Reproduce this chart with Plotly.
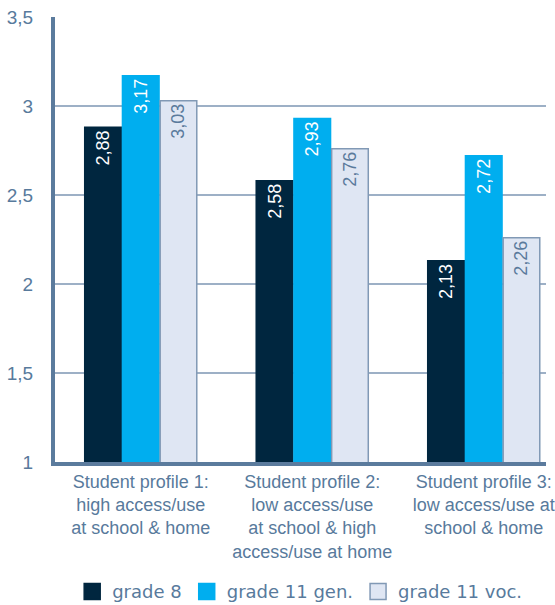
import plotly.graph_objects as go

categories = ["Student profile 1:<br>high access/use<br>at school & home",
              "Student profile 2:<br>low access/use<br>at school & high<br>access/use at home",
              "Student profile 3:<br>low access/use at<br>school & home"]
grade8 = [2.88, 2.58, 2.13]
grade11_gen = [3.17, 2.93, 2.72]
grade11_voc = [3.03, 2.76, 2.26]

series = [
    ("grade 8", grade8, "#00263f", "#00263f", "white"),
    ("grade 11 gen.", grade11_gen, "#00aeef", "#00aeef", "white"),
    ("grade 11 voc.", grade11_voc, "#dfe6f3", "#8199b5", "#5a7a9c"),
]

x = list(range(len(categories)))
fig = go.Figure()

for name, vals, fill, edge, tcol in series:
    fig.add_trace(go.Bar(
        x=x, y=vals, name=name, showlegend=False,
        marker=dict(color=fill, line=dict(color=edge, width=1.5)),
        text=[f"{v:.2f}".replace(".", ",") for v in vals],
        textposition="inside", insidetextanchor="end", textangle=-90,
        textfont=dict(color=tcol, size=18, family="Liberation Sans"),
    ))
    # legend entry with a bigger square
    fig.add_trace(go.Scatter(
        x=[None], y=[None], mode="markers", name=name,
        marker=dict(symbol="square", size=16, color=fill, line=dict(color=edge, width=1.5)),
    ))

fig.update_layout(
    width=555, height=605,
    margin=dict(l=55, r=9, t=17, b=143),
    plot_bgcolor="white", paper_bgcolor="white",
    barmode="group", bargap=0.34, bargroupgap=0.03,
    separators=",.",
    font=dict(family="Liberation Sans", color="#587a9c"),
    legend=dict(orientation="h", x=0.035, y=0.022, xanchor="left", yanchor="middle",
                yref="container",
                font=dict(family="DejaVu Sans", size=18, color="#587a9c"),
                itemsizing="trace", tracegroupgap=0),
    xaxis=dict(
        tickvals=x, ticktext=categories, range=[-0.5, 2.363],
        showline=True, linecolor="#5b7b9d", linewidth=4, ticks="",
        tickfont=dict(size=18), showgrid=False, automargin=False,
    ),
    yaxis=dict(
        range=[1, 3.5], tickvals=[1, 1.5, 2, 2.5, 3, 3.5],
        showline=True, linecolor="#5b7b9d", linewidth=4,
        showgrid=True, gridcolor="#9db0c6", gridwidth=1.5,
        tickfont=dict(size=19), ticks="", ticklabelstandoff=14, zeroline=False,
        automargin=False,
    ),
)

fig.write_html("out.html", config={"displayModeBar": False},
               post_script="document.body.style.margin='0';")
